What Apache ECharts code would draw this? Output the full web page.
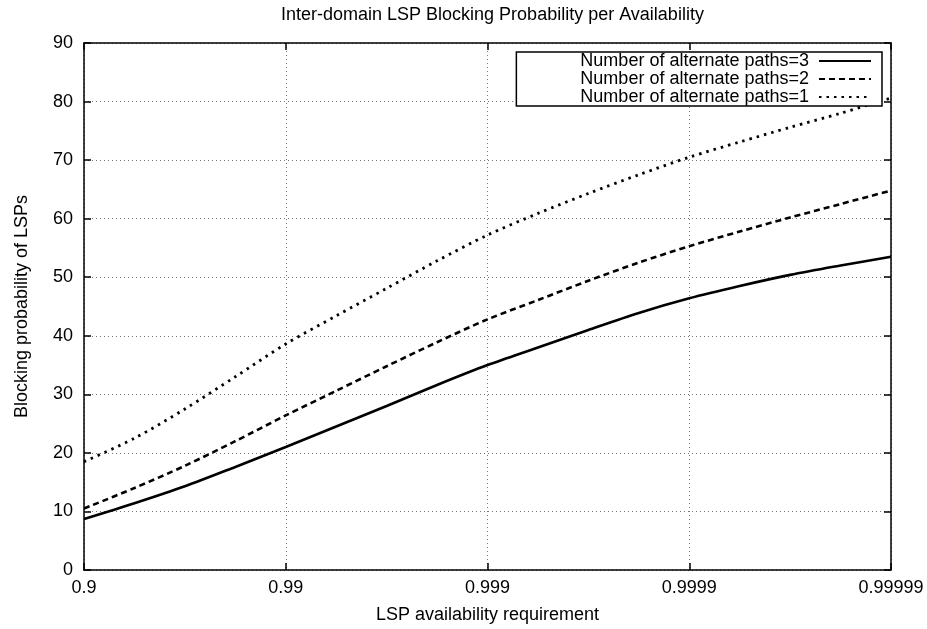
<!DOCTYPE html>
<html>
<head>
<meta charset="utf-8">
<script src="https://cdn.jsdelivr.net/npm/echarts@6/dist/echarts.min.js"></script>
<style>
  html, body { margin: 0; padding: 0; background: #fff; }
  #chart { width: 927px; height: 629px; }
</style>
</head>
<body>
<div id="chart"></div>
<script>
// x position in decades: 0 -> 0.9, 1 -> 0.99, ... 4 -> 0.99999
var xPos = [0, 0.25, 0.5, 0.75, 1, 1.25, 1.5, 1.75, 2, 2.25, 2.5, 2.75, 3, 3.25, 3.5, 3.75, 4];
var xTickLabels = ["0.9", "0.99", "0.999", "0.9999", "0.99999"];

var paths3 = [8.7, 11.4, 14.3, 17.6, 21.0, 24.5, 28.0, 31.6, 35.0, 38.0, 41.0, 43.9, 46.4, 48.5, 50.4, 52.0, 53.5];
var paths2 = [10.5, 14.0, 17.8, 22.0, 26.4, 30.6, 34.8, 38.9, 42.8, 46.1, 49.4, 52.5, 55.3, 57.8, 60.2, 62.5, 64.8];
var paths1 = [18.5, 22.5, 27.5, 33.0, 38.6, 43.4, 48.1, 52.8, 57.2, 60.9, 64.3, 67.5, 70.5, 73.1, 75.6, 78.0, 80.6];

var seriesNames = ["Number of alternate paths=3", "Number of alternate paths=2", "Number of alternate paths=1"];

function pairs(vals) {
  return xPos.map(function (x, i) { return [x, vals[i]]; });
}

var font = "Liberation Sans";
var gridLine = { show: true, lineStyle: { color: "#777", width: 1, type: [1, 3] } };
var frameLine = { show: true, onZero: false, lineStyle: { color: "#000", width: 1.5 } };
var frameTick = { show: true, inside: true, length: 7, lineStyle: { color: "#000", width: 1.5 } };

var chart = echarts.init(document.getElementById("chart"));
chart.setOption({
  backgroundColor: "#fff",
  animation: false,
  textStyle: { fontFamily: font, color: "#000" },
  title: {
    text: "Inter-domain LSP Blocking Probability per Availability",
    left: 281,
    top: 6,
    padding: 0,
    textStyle: { fontFamily: font, fontSize: 18, fontWeight: "normal", color: "#000" }
  },
  legend: {
    data: seriesNames,
    orient: "vertical",
    right: 45,
    top: 52,
    align: "right",
    itemGap: 0,
    itemWidth: 52,
    itemHeight: 14,
    padding: [0, 10, 0, 64],
    borderColor: "#000",
    borderWidth: 1.5,
    backgroundColor: "#fff",
    itemStyle: { opacity: 0 },
    textStyle: { fontFamily: font, fontSize: 18, lineHeight: 17.5, color: "#000", padding: [0, 5, 0, 0] }
  },
  grid: { left: 84, right: 36, top: 43, bottom: 56 },
  xAxis: [
    {
      type: "value",
      min: 0,
      max: 4,
      interval: 1,
      name: "LSP availability requirement",
      nameLocation: "middle",
      nameGap: 36,
      nameTextStyle: { fontFamily: font, fontSize: 18, color: "#000" },
      axisLine: frameLine,
      axisTick: frameTick,
      axisLabel: {
        fontFamily: font, fontSize: 18, color: "#000", margin: 9,
        formatter: function (v) { return xTickLabels[Math.round(v)]; }
      },
      splitLine: gridLine
    },
    {
      type: "value",
      position: "top",
      min: 0,
      max: 4,
      interval: 1,
      axisLine: frameLine,
      axisTick: frameTick,
      axisLabel: { show: false },
      splitLine: { show: false }
    }
  ],
  yAxis: [
    {
      type: "value",
      min: 0,
      max: 90,
      interval: 10,
      name: "Blocking probability of LSPs",
      nameLocation: "middle",
      nameGap: 53,
      nameTextStyle: { fontFamily: font, fontSize: 18, color: "#000" },
      axisLine: frameLine,
      axisTick: frameTick,
      axisLabel: { fontFamily: font, fontSize: 18, color: "#000", margin: 11 },
      splitLine: gridLine
    },
    {
      type: "value",
      position: "right",
      min: 0,
      max: 90,
      interval: 10,
      axisLine: frameLine,
      axisTick: frameTick,
      axisLabel: { show: false },
      splitLine: { show: false }
    }
  ],
  series: [
    {
      name: seriesNames[0],
      type: "line",
      smooth: 0.3,
      symbol: "none",
      data: pairs(paths3),
      lineStyle: { color: "#000", width: 2.6, type: "solid" },
      itemStyle: { color: "#000" }
    },
    {
      name: seriesNames[1],
      type: "line",
      smooth: 0.3,
      symbol: "none",
      data: pairs(paths2),
      lineStyle: { color: "#000", width: 2.6, type: [6, 4] },
      itemStyle: { color: "#000" }
    },
    {
      name: seriesNames[2],
      type: "line",
      smooth: 0.3,
      symbol: "none",
      data: pairs(paths1),
      lineStyle: { color: "#000", width: 2.8, type: [2.5, 5] },
      itemStyle: { color: "#000" }
    }
  ]
});
</script>
</body>
</html>
